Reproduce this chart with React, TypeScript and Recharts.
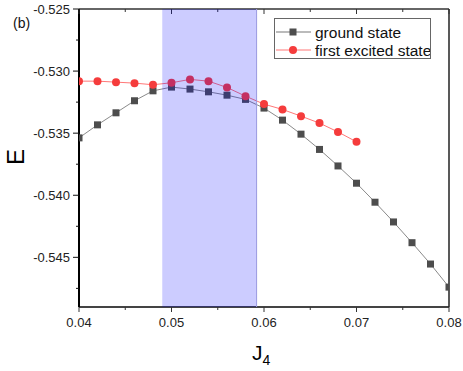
import React from "react";
import {
  ComposedChart,
  Line,
  XAxis,
  YAxis,
  ReferenceArea,
  ReferenceLine,
  Legend,
} from "recharts";

const j4 = [
  0.04, 0.042, 0.044, 0.046, 0.048, 0.05, 0.052, 0.054, 0.056, 0.058, 0.06,
  0.062, 0.064, 0.066, 0.068, 0.07, 0.072, 0.074, 0.076, 0.078, 0.08,
];
const groundState = [
  -0.53538, -0.53433, -0.53336, -0.53239, -0.53159, -0.53129, -0.53145,
  -0.53167, -0.53194, -0.53228, -0.53298, -0.53395, -0.53508, -0.53631,
  -0.53764, -0.53903, -0.54056, -0.54215, -0.54382, -0.54554, -0.5474,
];
const excitedState = [
  -0.53081, -0.53081, -0.53089, -0.53097, -0.5311, -0.53094, -0.53067,
  -0.53081, -0.53132, -0.53202, -0.53266, -0.53309, -0.53363, -0.53419,
  -0.5349, -0.5357,
];
const xMajor = [0.04, 0.05, 0.06, 0.07, 0.08];
const xMinor = [0.045, 0.055, 0.065, 0.075];
const yMajor = [-0.525, -0.53, -0.535, -0.54, -0.545];
const yMinor = [-0.5275, -0.5325, -0.5375, -0.5425, -0.5475];
const shaded = [0.049, 0.0592];
const xDomain = [0.04, 0.08];
const yDomain = [-0.549, -0.525];

const data = j4.map((x, i) => ({
  x,
  ground: groundState[i],
  excited: excitedState[i],
}));

const font = "'Liberation Sans', Arial, sans-serif";
const isMajor = (v: number, list: number[]) =>
  list.some((m) => Math.abs(m - v) < 1e-9);

const BottomTick = (props: any) => {
  const { x, y, payload } = props;
  const major = isMajor(payload.value, xMajor);
  return (
    <g>
      <line x1={x} x2={x} y1={y} y2={y + (major ? 5 : 3)} stroke="#333" />
      {major && (
        <text x={x} y={y + 20} textAnchor="middle" fontSize={13} fontFamily={font} fill="#222">
          {payload.value.toFixed(2)}
        </text>
      )}
    </g>
  );
};

const TopTick = (props: any) => {
  const { x, y, payload } = props;
  const major = isMajor(payload.value, xMajor);
  return <line x1={x} x2={x} y1={y} y2={y + (major ? 5 : 3)} stroke="#333" />;
};

const LeftTick = (props: any) => {
  const { x, y, payload } = props;
  const major = isMajor(payload.value, yMajor);
  return (
    <g>
      <line x1={x - (major ? 6 : 3)} x2={x} y1={y} y2={y} stroke="#111" />
      {major && (
        <text x={x - 9} y={y} dy="0.35em" textAnchor="end" fontSize={13} fontFamily={font} fill="#222">
          {payload.value.toFixed(3)}
        </text>
      )}
    </g>
  );
};

const RightTick = (props: any) => {
  const { x, y, payload } = props;
  const major = isMajor(payload.value, yMajor);
  return <line x1={x - (major ? 5 : 3)} x2={x} y1={y} y2={y} stroke="#333" />;
};

const SquareDot = (props: any) => {
  const { cx, cy, index } = props;
  if (cx == null || cy == null) return <g key={index} />;
  return <rect key={index} x={cx - 3.5} y={cy - 3.5} width={7} height={7} fill="#4d4d4d" />;
};

const CircleDot = (props: any) => {
  const { cx, cy, index } = props;
  if (cx == null || cy == null) return <g key={index} />;
  return <circle key={index} cx={cx} cy={cy} r={4} fill="#f53c3c" />;
};

const LegendBox = () => (
  <div
    style={{
      border: "1px solid #666",
      width: 157,
      height: 41,
      boxSizing: "border-box",
      background: "#fff",
    }}
  >
    <svg width={155} height={39} style={{ display: "block" }}>
      <line x1={1} x2={36} y1={13} y2={13} stroke="#bbb" strokeWidth={2} />
      <rect x={14.5} y={9.5} width={7} height={7} fill="#4d4d4d" />
      <text x={40} y={18.5} fontSize={15.5} fontFamily={font} fill="#111">
        ground state
      </text>
      <line x1={1} x2={36} y1={31} y2={31} stroke="#f77" strokeWidth={1} />
      <circle cx={18} cy={31} r={4} fill="#f53c3c" />
      <text x={40} y={36.5} fontSize={15.5} fontFamily={font} fill="#111">
        first excited state
      </text>
    </svg>
  </div>
);

export default function App() {
  return (
    <div style={{ position: "absolute", left: 0, top: 0, width: 463, height: 371, background: "#fff" }}>
      <ComposedChart
        width={463}
        height={371}
        data={data}
        margin={{ top: 9, right: 14, left: 9, bottom: 4 }}
      >
        <XAxis
          xAxisId="b"
          dataKey="x"
          type="number"
          domain={xDomain}
          ticks={[...xMajor, ...xMinor]}
          tickLine={false}
          tickSize={0}
          tickMargin={0}
          tick={<BottomTick />}
          axisLine={{ stroke: "#444", strokeWidth: 2 }}
          height={60}
          interval={0}
          allowDataOverflow
        />
        <XAxis
          xAxisId="t"
          orientation="top"
          dataKey="x"
          type="number"
          domain={xDomain}
          ticks={[...xMajor, ...xMinor]}
          tickLine={false}
          tickSize={0}
          tickMargin={0}
          tick={<TopTick />}
          axisLine={{ stroke: "#333", strokeWidth: 1.5 }}
          mirror
          interval={0}
        />
        <YAxis
          yAxisId="l"
          type="number"
          domain={yDomain}
          ticks={[...yMajor, ...yMinor]}
          tickLine={false}
          tickSize={0}
          tickMargin={0}
          tick={<LeftTick />}
          axisLine={{ stroke: "#000", strokeWidth: 2 }}
          width={70}
          interval={0}
          allowDataOverflow
        />
        <YAxis
          yAxisId="r"
          orientation="right"
          type="number"
          domain={yDomain}
          ticks={[...yMajor, ...yMinor]}
          tickLine={false}
          tickSize={0}
          tickMargin={0}
          tick={<RightTick />}
          axisLine={{ stroke: "#222", strokeWidth: 1.5 }}
          mirror
          interval={0}
        />
        <Line
          xAxisId="b"
          yAxisId="l"
          type="linear"
          dataKey="ground"
          stroke="#8a8a8a"
          strokeWidth={1}
          dot={<SquareDot />}
          activeDot={false}
          isAnimationActive={false}
        />
        <Line
          xAxisId="b"
          yAxisId="l"
          type="linear"
          dataKey="excited"
          stroke="#f77"
          strokeWidth={1}
          dot={<CircleDot />}
          activeDot={false}
          isAnimationActive={false}
        />
        <Legend
          layout="vertical"
          align="center"
          verticalAlign="middle"
          content={<LegendBox />}
          wrapperStyle={{ left: 274, top: 18, width: 157, height: 41 }}
        />
      </ComposedChart>
      {/* translucent band drawn on top of the series, like the original */}
      <div style={{ position: "absolute", left: 0, top: 0, pointerEvents: "none" }}>
        <ComposedChart
          width={463}
          height={371}
          data={data}
          margin={{ top: 9, right: 14, left: 79, bottom: 64 }}
        >
          <XAxis dataKey="x" type="number" domain={xDomain} hide allowDataOverflow />
          <YAxis type="number" domain={yDomain} hide allowDataOverflow />
          <Line
            dataKey="ground"
            stroke="none"
            dot={false}
            activeDot={false}
            isAnimationActive={false}
          />
          <ReferenceArea
            x1={shaded[0]}
            x2={shaded[1]}
            y1={yDomain[0]}
            y2={yDomain[1]}
            fill="#0000ff"
            fillOpacity={0.2}
            stroke="none"
            ifOverflow="extendDomain"
          />
          <ReferenceLine x={shaded[1]} stroke="#9a9ae0" strokeWidth={1} />
        </ComposedChart>
      </div>
      <div style={{ position: "absolute", left: 13, top: 15, fontFamily: font, fontSize: 14, color: "#111" }}>
        (b)
      </div>
      <div
        style={{
          position: "absolute",
          left: 16,
          top: 157,
          transform: "translate(-50%, -50%) rotate(-90deg)",
          fontFamily: font,
          fontSize: 24,
          color: "#000",
          lineHeight: 1,
        }}
      >
        E
      </div>
      <div style={{ position: "absolute", left: 252, top: 342, fontFamily: font, fontSize: 21, color: "#000", lineHeight: 1 }}>
        J<sub style={{ fontSize: 14, verticalAlign: "-5px" }}>4</sub>
      </div>
    </div>
  );
}
